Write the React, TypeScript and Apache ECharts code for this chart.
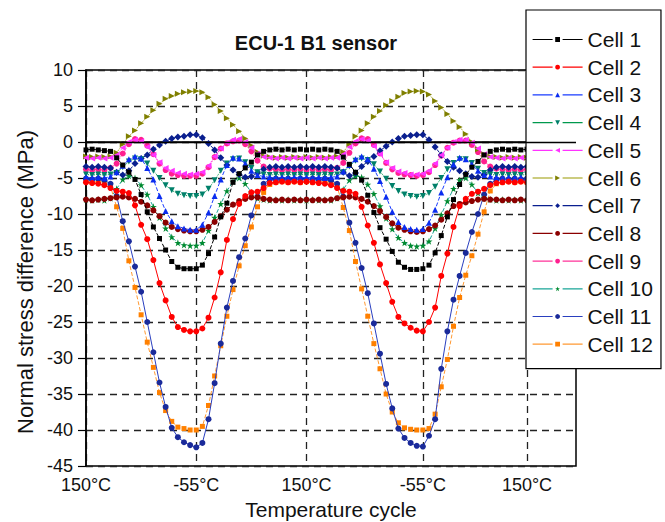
import React, { useEffect, useRef } from 'react';
import * as echarts from 'echarts';

// x index (time step along the temperature cycle)
const steps = Array.from({ length: 81 }, (_, i) => String(i));
const xTickIndex = [0, 18, 36, 55, 72];
const xTickLabels = ['150°C', '-55°C', '150°C', '-55°C', '150°C'];
const cellNames = ['Cell 1', 'Cell 2', 'Cell 3', 'Cell 4', 'Cell 5', 'Cell 6', 'Cell 7', 'Cell 8', 'Cell 9', 'Cell 10', 'Cell 11', 'Cell 12'];

const cell1 = [-1.1, -1.0, -1.1, -1.2, -1.3,
  -2.2, -3.2, -4.2, -5.2, -7.3, -9.7, -11.8, -13.4, -15.0, -16.6, -17.4, -17.6, -17.6, -17.6, -17.1, -15.5, -13.2, -10.4, -8.5, -5.6, -4.4, -3.6, -2.8, -1.8, -1.3,
  -1.1, -1.0, -1.1, -1.0, -1.1, -1.0, -1.1, -1.0, -1.1, -1.0, -1.1, -1.3,
  -2.1, -3.1, -4.2, -5.3, -7.4, -9.8, -11.9, -13.5, -15.2, -16.7, -17.4, -17.7, -17.7, -17.6, -17.1, -15.4, -13.0, -10.4, -8.0, -5.9, -4.5, -3.5, -2.7, -1.8, -1.3,
  -1.1, -1.0, -1.1, -1.0, -1.1, -1.0, -1.1, -1.0, -1.1, -1.0, -1.1, -1.0, -1.1, -1.0];
const cell2 = [-5.6, -5.7, -5.8, -6.0, -6.4,
  -6.8, -6.9, -7.1, -8.8, -11.5, -13.5, -16.4, -19.6, -22.0, -24.3, -25.7, -26.1, -26.3, -26.3, -25.9, -24.4, -21.6, -18.1, -13.6, -10.7, -8.6, -7.5, -7.0, -6.9, -6.4,
  -5.7, -5.6, -5.5, -5.6, -5.5, -5.6, -5.5, -5.6, -5.7, -5.8, -6.0, -6.4,
  -6.8, -6.9, -7.2, -9.0, -11.6, -14.0, -17.0, -19.6, -22.2, -24.3, -25.2, -25.8, -26.2, -26.3, -25.0, -23.0, -18.6, -15.5, -11.8, -8.9, -7.9, -7.2, -6.9, -6.5, -6.0,
  -5.7, -5.6, -5.5, -5.6, -5.5, -5.6, -5.5, -5.6, -5.5, -5.6, -5.5, -5.6, -5.5, -5.6];
const cell3 = [-4.9, -5.0, -4.9, -5.0, -4.8,
  -4.2, -3.3, -2.4, -2.0, -2.3, -3.6, -5.2, -7.5, -9.6, -11.0, -11.7, -12.0, -12.2, -12.2, -11.5, -9.8, -7.5, -5.2, -3.2, -2.2, -2.3, -3.0, -4.0, -4.6, -4.8,
  -4.9, -5.0, -4.9, -5.0, -4.9, -5.0, -4.9, -5.0, -4.9, -5.0, -4.9, -4.8,
  -4.1, -3.2, -2.4, -2.0, -2.4, -3.7, -5.4, -7.6, -9.7, -11.1, -11.8, -12.1, -12.2, -12.1, -11.2, -9.4, -7.0, -4.9, -3.1, -2.2, -2.4, -3.1, -4.0, -4.6, -4.8,
  -4.9, -5.0, -4.9, -5.0, -4.9, -5.0, -4.9, -5.0, -4.9, -5.0, -4.9, -5.0, -4.9, -5.0];
const cell4 = [-4.5, -4.6, -4.5, -4.6, -4.5,
  -4.3, -3.5, -2.7, -2.3, -2.4, -3.0, -4.0, -5.0, -6.0, -6.7, -7.2, -7.4, -7.5, -7.5, -7.3, -6.5, -5.3, -4.0, -3.0, -2.4, -2.3, -2.8, -3.6, -4.2, -4.5,
  -4.6, -4.5, -4.6, -4.5, -4.6, -4.5, -4.6, -4.5, -4.6, -4.5, -4.6, -4.5,
  -4.2, -3.4, -2.6, -2.3, -2.5, -3.1, -4.1, -5.1, -6.1, -6.8, -7.3, -7.5, -7.6, -7.5, -7.1, -6.2, -5.0, -3.8, -2.9, -2.4, -2.4, -2.9, -3.7, -4.3, -4.5,
  -4.6, -4.5, -4.6, -4.5, -4.6, -4.5, -4.6, -4.5, -4.6, -4.5, -4.6, -4.5, -4.6, -4.5];
const cell5 = [-2.2, -2.3, -2.2, -2.3, -2.2,
  -1.8, -0.8, 0.0, 0.3, 0.1, -0.7, -1.8, -2.8, -3.6, -4.0, -4.3, -4.4, -4.5, -4.4, -4.2, -3.3, -2.0, -0.9, -0.1, 0.3, 0.4, 0.0, -0.8, -1.6, -2.1,
  -2.2, -2.3, -2.2, -2.3, -2.2, -2.3, -2.2, -2.3, -2.2, -2.3, -2.2, -2.2,
  -1.7, -0.7, 0.1, 0.4, 0.2, -0.6, -1.7, -2.8, -3.6, -4.1, -4.3, -4.5, -4.5, -4.4, -4.0, -3.0, -1.8, -0.8, 0.0, 0.3, 0.3, -0.1, -0.9, -1.7, -2.1,
  -2.2, -2.3, -2.2, -2.3, -2.2, -2.3, -2.2, -2.3, -2.2, -2.3, -2.2, -2.3, -2.2, -2.3];
const cell6 = [-2.0, -2.1, -2.0, -2.1, -2.0,
  -1.5, -0.3, 0.8, 1.6, 2.6, 3.5, 4.4, 5.3, 6.0, 6.4, 6.7, 6.9, 7.0, 7.1, 6.9, 6.2, 5.2, 4.3, 3.3, 2.4, 1.5, 0.5, -0.5, -1.4, -1.9,
  -2.1, -2.2, -2.1, -2.2, -2.1, -2.2, -2.1, -2.2, -2.1, -2.2, -2.1, -2.0,
  -1.4, -0.3, 0.8, 1.6, 2.6, 3.5, 4.3, 5.1, 5.7, 6.3, 6.8, 7.0, 7.1, 7.0, 6.6, 5.7, 4.8, 3.9, 2.9, 2.1, 1.1, 0.0, -1.0, -1.7, -2.0,
  -2.1, -2.2, -2.1, -2.2, -2.1, -2.2, -2.1, -2.2, -2.1, -2.2, -2.1, -2.2, -2.1, -2.2];
const cell7 = [-3.4, -3.5, -3.4, -3.5, -3.6,
  -4.2, -4.6, -4.0, -3.0, -2.3, -1.8, -1.0, -0.4, 0.1, 0.5, 0.7, 0.8, 1.0, 1.0, 0.6, -0.2, -1.1, -2.2, -3.2, -3.9, -4.5, -4.9, -4.8, -4.3, -3.8,
  -3.5, -3.4, -3.5, -3.4, -3.5, -3.4, -3.5, -3.4, -3.5, -3.4, -3.5, -3.6,
  -4.2, -4.7, -4.3, -3.4, -2.7, -2.0, -1.2, -0.6, 0.0, 0.5, 0.8, 0.9, 1.0, 1.0, 0.3, -0.7, -1.8, -2.7, -3.5, -4.0, -4.4, -4.8, -4.9, -4.5, -3.9,
  -3.5, -3.4, -3.5, -3.4, -3.5, -3.4, -3.5, -3.4, -3.5, -3.4, -3.5, -3.4, -3.5, -3.4];
const cell8 = [-8.0, -8.1, -8.0, -7.9, -7.8,
  -7.7, -7.6, -7.7, -7.9, -8.3, -8.8, -9.5, -10.3, -11.2, -11.8, -12.1, -12.3, -12.4, -12.4, -12.2, -11.8, -11.1, -10.3, -9.4, -8.7, -8.2, -7.9, -7.7, -7.7, -7.9,
  -8.0, -8.1, -8.0, -8.1, -8.0, -8.1, -8.0, -8.1, -8.0, -8.1, -8.0, -7.8,
  -7.7, -7.6, -7.7, -7.9, -8.3, -8.9, -9.6, -10.4, -11.3, -11.9, -12.2, -12.4, -12.5, -12.4, -12.1, -11.6, -10.8, -9.9, -8.9, -8.6, -8.4, -8.2, -8.0, -7.9, -8.0,
  -8.0, -8.1, -8.0, -8.1, -8.0, -8.1, -8.0, -8.1, -8.0, -8.1, -8.0, -8.1, -8.0, -8.1];
const cell9 = [-3.8, -3.9, -3.8, -3.9, -3.6,
  -3.0, -1.6, -0.3, 0.4, 0.3, -0.5, -1.7, -3.0, -3.9, -4.4, -4.6, -4.7, -4.7, -4.7, -4.4, -3.5, -2.1, -0.9, -0.2, 0.1, 0.2, -0.3, -1.3, -2.6, -3.4,
  -3.7, -3.8, -3.9, -3.8, -3.9, -3.8, -3.9, -3.8, -3.9, -3.8, -3.9, -3.6,
  -2.9, -1.5, -0.2, 0.5, 0.4, -0.4, -1.6, -2.9, -3.8, -4.3, -4.5, -4.6, -4.7, -4.6, -4.2, -3.2, -1.9, -0.8, -0.1, 0.2, 0.2, -0.4, -1.4, -2.7, -3.4,
  -3.7, -3.8, -3.9, -3.8, -3.9, -3.8, -3.9, -3.8, -3.9, -3.8, -3.9, -3.8, -3.9, -3.8];
const cell10 = [-8.0, -8.1, -8.0, -8.1, -7.8,
  -6.5, -5.2, -4.7, -5.0, -6.0, -7.3, -9.0, -10.5, -12.0, -13.2, -14.0, -14.3, -14.4, -14.4, -14.0, -12.3, -10.5, -8.6, -6.8, -5.5, -5.0, -5.8, -7.0, -7.8, -8.0,
  -8.1, -8.0, -8.1, -8.0, -8.1, -8.0, -8.1, -8.0, -8.1, -8.0, -8.1, -7.8,
  -6.6, -5.3, -4.7, -4.9, -5.9, -7.2, -8.9, -10.6, -12.1, -13.3, -14.0, -14.4, -14.5, -14.4, -13.8, -12.0, -10.1, -8.2, -6.5, -5.3, -5.0, -5.9, -7.1, -7.8, -8.0,
  -8.1, -8.0, -8.1, -8.0, -8.1, -8.0, -8.1, -8.0, -8.1, -8.0, -8.1, -8.0, -8.1, -8.0];
const cell11 = [-5.1, -5.2, -5.1, -5.3, -5.8,
  -7.5, -11.0, -13.8, -17.3, -20.8, -25.0, -29.2, -33.4, -36.8, -39.7, -41.0, -41.7, -42.1, -42.4, -41.8, -38.5, -33.5, -28.0, -23.0, -19.3, -16.0, -13.4, -10.2, -7.6, -5.8,
  -5.2, -5.1, -5.2, -5.1, -5.2, -5.1, -5.2, -5.1, -5.2, -5.1, -5.3, -5.8,
  -7.6, -11.2, -14.0, -17.5, -21.0, -25.2, -29.4, -33.6, -37.0, -39.8, -41.1, -41.8, -42.2, -42.3, -40.8, -38.5, -31.5, -26.3, -21.9, -18.6, -15.4, -12.5, -10.0, -7.3, -5.8,
  -5.2, -5.1, -5.2, -5.1, -5.2, -5.1, -5.2, -5.1, -5.2, -5.1, -5.2, -5.1, -5.2, -5.1];
const cell12 = [-5.5, -5.6, -5.5, -5.6, -6.2,
  -9.0, -12.0, -16.5, -20.2, -24.0, -27.8, -31.3, -34.8, -37.3, -38.8, -39.6, -39.8, -40.0, -40.0, -39.5, -36.6, -32.5, -28.3, -24.2, -20.5, -17.2, -14.4, -11.8, -9.0, -7.0,
  -5.9, -5.6, -5.5, -5.6, -5.5, -5.6, -5.5, -5.6, -5.5, -5.6, -5.5, -6.2,
  -9.1, -12.3, -16.6, -20.4, -24.2, -28.0, -31.5, -35.0, -37.5, -39.0, -39.7, -39.9, -40.0, -40.0, -39.8, -37.8, -34.0, -30.2, -25.6, -21.6, -18.5, -15.8, -12.8, -9.7, -6.8,
  -5.8, -5.6, -5.5, -5.6, -5.5, -5.6, -5.5, -5.6, -5.5, -5.6, -5.5, -5.6, -5.5, -5.6];

const cellValues = [cell1, cell2, cell3, cell4, cell5, cell6, cell7, cell8, cell9, cell10, cell11, cell12];

const STAR = 'path://M50,0 L61.8,35.1 98.8,35.1 68.9,56.9 80.3,92.1 50,70.3 19.7,92.1 31.1,56.9 1.2,35.1 38.2,35.1 Z';
const lineColors = ['#000000', '#ff0000', '#1a3cff', '#00994d', '#ff33ff', '#9a9a00', '#0a1f8f', '#8b0000', '#ff3399', '#1aa598', '#2a3fbf', '#ff9933'];
const markerColors = ['#000000', '#ff0000', '#0a2cf0', '#00806a', '#ff33ff', '#7f7f00', '#0a1f8f', '#8b0000', '#ff1f8f', '#008a30', '#1a2a9a', '#ff8000'];
const symbols = ['rect', 'circle', 'triangle', 'triangle', 'triangle', 'triangle', 'diamond', 'circle', 'circle', STAR, 'circle', 'rect'];
const rotates = [0, 0, 0, 180, 90, -90, 0, 0, 0, 0, 0, 0];
const sizes = [5, 6, 6, 6, 6, 6, 7, 6, 6, 7, 6, 5];
const lineTypes: any[] = ['dashed', 'solid', 'dashed', 'dotted', 'dotted', 'dotted', 'dashed', 'solid', 'dotted', 'dashed', 'solid', 'dashed'];

const FONT = '"Liberation Sans", Arial, sans-serif';

export default function App() {
  const ref = useRef<HTMLDivElement>(null);
  useEffect(() => {
    const chart = echarts.init(ref.current!, null, { renderer: 'svg' });
    const tickSet = new Set(xTickIndex);
    const series: any[] = cellNames.map((name, k) => ({
      name,
      type: 'line',
      data: cellValues[k],
      symbol: symbols[k],
      symbolSize: sizes[k],
      symbolRotate: rotates[k],
      showAllSymbol: true,
      itemStyle: { color: markerColors[k] },
      lineStyle: { color: lineColors[k], width: 1, type: lineTypes[k] },
      z: 3 + (12 - k) * 0.01,
    }));
    series[0].markLine = {
      silent: true,
      symbol: ['none', 'none'],
      label: { show: false },
      lineStyle: { color: '#000', type: 'solid', width: 1.3 },
      data: [{ yAxis: 0 }],
    };
    chart.setOption({
      animation: false,
      backgroundColor: '#ffffff',
      textStyle: { fontFamily: FONT },
      title: {
        text: 'ECU-1 B1 sensor',
        left: 316,
        top: 33,
        textAlign: 'center',
        padding: 0,
        textStyle: { fontFamily: FONT, fontSize: 20, fontWeight: 'bold', color: '#111' },
      },
      grid: {
        left: 86, right: 89, top: 70, bottom: 56,
        outerBoundsMode: 'none',
        containLabel: false,
        show: true, borderColor: '#000', borderWidth: 1.5, backgroundColor: 'transparent',
      },
      legend: {
        orient: 'vertical',
        left: 526,
        top: 10,
        padding: [19, 8, 14, 6],
        itemWidth: 50,
        itemHeight: 6,
        itemGap: 6.7,
        backgroundColor: '#ffffff',
        borderColor: '#000',
        borderWidth: 1.2,
        data: cellNames,
        lineStyle: { type: [20, 10], width: 1.2 },
        textStyle: { fontFamily: FONT, fontSize: 21, color: '#111' },
      },
      xAxis: {
        type: 'category',
        data: steps,
        boundaryGap: false,
        name: 'Temperature cycle',
        nameLocation: 'middle',
        nameGap: 32,
        nameTextStyle: { fontFamily: FONT, fontSize: 21, color: '#111' },
        axisLine: { show: true, lineStyle: { color: '#000', width: 1.5 } },
        axisTick: { show: false },
        axisLabel: {
          interval: (idx: number) => tickSet.has(idx),
          formatter: (_v: string, idx: number) => {
            const p = xTickIndex.indexOf(idx);
            return p >= 0 ? xTickLabels[p] : '';
          },
          fontFamily: FONT,
          fontSize: 18,
          color: '#111',
          margin: 10,
        },
        splitLine: {
          show: true,
          interval: (idx: number) => tickSet.has(idx),
          lineStyle: { color: '#222', type: [7, 5], width: 1.3 },
        },
      },
      yAxis: {
        type: 'value',
        min: -45,
        max: 10,
        interval: 5,
        name: 'Normal stress difference (MPa)',
        nameLocation: 'middle',
        nameGap: 50,
        nameTextStyle: { fontFamily: FONT, fontSize: 22, color: '#111', padding: [0, 28, 0, 0] },
        axisLine: { show: true, lineStyle: { color: '#000', width: 1.5 } },
        axisTick: { show: true, inside: false, length: 8, lineStyle: { color: '#000', width: 1.2 } },
        axisLabel: { fontFamily: FONT, fontSize: 18, color: '#111', margin: 13 },
        splitLine: { show: true, lineStyle: { color: '#222', type: [7, 5], width: 1.3 } },
      },
      series,
    });
    return () => chart.dispose();
  }, []);
  return (
    <div
      ref={ref}
      style={{ position: 'fixed', left: 0, top: 0, width: 665, height: 522, background: '#fff' }}
    />
  );
}
